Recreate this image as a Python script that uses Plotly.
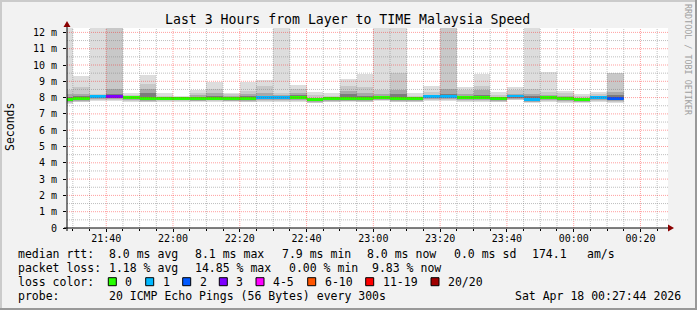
import plotly.graph_objects as go

# ---------------- data ----------------
bar_end = ["21:30","21:35","21:40","21:45","21:50","21:55",
           "22:00","22:05","22:10","22:15","22:20","22:25","22:30","22:35","22:40","22:45","22:50","22:55",
           "23:00","23:05","23:10","23:15","23:20","23:25","23:30","23:35","23:40","23:45","23:50","23:55",
           "00:00","00:05","00:10","00:15"]
loss = [0,0,1,3,0,0,0,0,0,0, 0,0,1,1,0,0,0,0,0,0, 0,0,1,1,0,0,0,1,1,0, 0,0,1,2]
median = [7.87,7.97,8.05,8.06,7.99,7.97,7.97,7.97,7.97,7.97,
          7.97,7.97,7.98,8.00,8.00,7.89,7.95,7.97,7.97,8.03,
          7.95,7.95,8.05,8.05,7.99,7.99,7.95,8.10,7.91,8.03,
          7.92,7.90,8.03,7.97]
smoke_max = [13,9.30,13,13,8.30,9.40,8.30,8.10,8.46,8.97,
             8.30,8.97,9.07,13,8.79,8.32,8.28,9.17,9.44,13,
             13,8.28,8.70,13,8.62,9.44,8.36,8.62,13,9.60,
             8.40,8.20,8.36,9.50]
smoke_hi2 = [8.45,8.64,8.25,13,8.15,8.85,8.12,8.05,8.30,8.50,
             8.20,8.42,8.70,8.30,8.54,8.15,8.12,8.72,8.64,8.44,
             9.52,8.12,8.32,13,8.45,8.72,8.15,8.44,8.50,8.35,
             8.30,8.10,8.20,9.50]
smoke_hi3 = [8.20,8.23,8.12,8.50,8.08,8.54,8.06,8.02,8.15,8.30,
             8.08,8.23,8.30,8.15,8.30,8.00,8.03,8.42,8.30,8.20,
             8.44,8.05,8.15,8.50,8.20,8.45,8.05,8.25,8.20,8.15,
             8.12,8.00,8.12,8.36]
smoke_hi4 = [8.05,8.10,8.10,8.20,8.04,8.30,8.03,8.00,8.05,8.10,
             8.02,8.10,8.10,8.08,8.15,7.95,7.99,8.20,8.12,8.10,
             8.20,8.00,8.10,8.20,8.05,8.15,8.00,8.17,8.08,8.10,
             8.00,7.95,8.08,8.15]
smoke_lo4 = [7.78,7.88,7.95,7.96,7.90,7.88,7.89,7.89,7.88,7.89,
             7.88,7.88,7.90,7.91,7.92,7.80,7.86,7.88,7.88,7.95,
             7.86,7.87,7.96,7.95,7.90,7.90,7.86,8.00,7.82,7.94,
             7.83,7.81,7.94,7.87]
smoke_lo3 = [7.72,7.82,7.90,7.90,7.84,7.82,7.83,7.83,7.82,7.83,
             7.82,7.82,7.84,7.85,7.86,7.74,7.80,7.82,7.82,7.88,
             7.80,7.81,7.90,7.89,7.84,7.84,7.80,7.94,7.76,7.88,
             7.77,7.75,7.88,7.80]
smoke_lo2 = [7.67,7.76,7.84,7.85,7.78,7.76,7.77,7.77,7.77,7.78,
             7.77,7.76,7.79,7.80,7.80,7.69,7.75,7.77,7.76,7.83,
             7.75,7.76,7.84,7.83,7.79,7.78,7.75,7.88,7.71,7.82,
             7.72,7.70,7.82,7.74]
smoke_min = [7.62,7.70,7.78,7.80,7.72,7.70,7.72,7.70,7.72,7.72,
             7.72,7.70,7.72,7.74,7.74,7.66,7.70,7.72,7.70,7.78,
             7.70,7.72,7.78,7.78,7.72,7.70,7.70,7.84,7.66,7.76,
             7.66,7.66,7.76,7.68]

y_tick_vals = [0,1,2,3,4,5,6,7,8,9,10,11,12]
y_tick_text = ["0","1 m","2 m","3 m","4 m","5 m","6 m","7 m","8 m","9 m","10 m","11 m","12 m"]

loss_keys = [0, 1, 2, 3, 5, 10, 19, 20]
loss_labels = ["0", "1", "2", "3", "4-5", "6-10", "11-19", "20/20"]
loss_colors = ["#26ff00", "#00b8ff", "#0059ff", "#7e00ff", "#ff00ff", "#ff5500", "#ff0000", "#a00000"]

title = "Last 3 Hours from Layer to TIME Malaysia Speed"
stats_rtt = ["median rtt:", "8.0 ms avg", "8.1 ms max", "7.9 ms min", "8.0 ms now", "0.0 ms sd", "174.1", "am/s"]
stats_loss = ["packet loss:", "1.18 % avg", "14.85 % max", "0.00 % min", "9.83 % now"]
probe_text = ["probe:", "20 ICMP Echo Pings (56 Bytes) every 300s", "Sat Apr 18 00:27:44 2026"]

# ---------------- helpers ----------------
W, H = 697, 310
L, R, T, B = 67, 668, 28, 228
def px(x):
    return (x - L) / (R - L)
def py(y):
    return (B - y) / (B - T)

def to_dt(hm):
    day = "2026-04-18" if hm.startswith("00") else "2026-04-17"
    return f"{day} {hm}:00"

xs = [to_dt(t) for t in bar_end]
FIVE = 300000
MONO = "DejaVu Sans Mono"

def loss_color(n):
    for k, c in zip(loss_keys, loss_colors):
        if n <= k:
            return c
    return loss_colors[-1]

fig = go.Figure()
layers = [(smoke_min, smoke_max, "#dddddd"),
          (smoke_lo2, smoke_hi2, "#c8c8c8"),
          (smoke_lo3, smoke_hi3, "#a8a8a8"),
          (smoke_lo4, smoke_hi4, "#7c7c7c")]
for lo, hi, col in layers:
    fig.add_trace(go.Bar(x=xs, base=lo, y=[h - l for l, h in zip(lo, hi)],
                         width=FIVE, offset=-FIVE, marker=dict(color=col, line=dict(width=0)),
                         hoverinfo="skip", showlegend=False))
MED_H = 0.18
fig.add_trace(go.Bar(x=xs, base=[m - MED_H / 2 for m in median], y=[MED_H] * len(median),
                     width=FIVE, offset=-FIVE,
                     marker=dict(color=[loss_color(n) for n in loss], line=dict(width=0)),
                     hoverinfo="skip", showlegend=False))

x_start, x_end = "2026-04-17 21:28:15", "2026-04-18 00:28:15"
shapes = []
# grid lines on top of the smoke (rrdtool style)
grid_minor = "rgba(128,128,128,0.5)"
grid_major = "rgba(255,0,0,0.38)"
vt = [f"2026-04-17 {h:02d}:{m:02d}:00" for h in (21, 22, 23) for m in range(0, 60, 5)] + \
     [f"2026-04-18 00:{m:02d}:00" for m in range(0, 30, 5)]
for t in vt:
    if t < x_start or t > x_end:
        continue
    major = int(t[-5:-3]) % 20 == 0
    shapes.append(dict(type="line", xref="x", yref="paper", x0=t, x1=t, y0=0, y1=1, layer="above",
                       line=dict(color=grid_major if major else grid_minor, width=1, dash="1px,1px")))
for i in range(1, 25):
    v = i * 0.5
    major = (i % 2 == 0)
    shapes.append(dict(type="line", xref="paper", yref="y", x0=0, x1=1, y0=v, y1=v, layer="above",
                       line=dict(color=grid_major if major else grid_minor, width=1, dash="1px,1px")))
# axes with arrows
shapes.append(dict(type="line", xref="paper", yref="paper", x0=px(67), x1=px(67), y0=py(231), y1=py(24),
                   line=dict(color="#000000", width=1), layer="above"))
shapes.append(dict(type="line", xref="paper", yref="paper", x0=px(64), x1=px(670), y0=py(228), y1=py(228),
                   line=dict(color="#000000", width=1), layer="above"))
shapes.append(dict(type="path", xref="paper", yref="paper", layer="above",
                   path=f"M {px(63.5)} {py(27)} L {px(70.5)} {py(27)} L {px(67)} {py(21)} Z",
                   fillcolor="#8b0000", line=dict(width=0)))
shapes.append(dict(type="path", xref="paper", yref="paper", layer="above",
                   path=f"M {px(668)} {py(224.5)} L {px(668)} {py(231.5)} L {px(674)} {py(228)} Z",
                   fillcolor="#8b0000", line=dict(width=0)))
# frame
shapes.append(dict(type="rect", xref="paper", yref="paper", x0=px(0), x1=px(697), y0=py(0), y1=py(2),
                   fillcolor="#cbcbcb", line=dict(width=0), layer="below"))
shapes.append(dict(type="rect", xref="paper", yref="paper", x0=px(0), x1=px(2), y0=py(0), y1=py(310),
                   fillcolor="#cbcbcb", line=dict(width=0), layer="below"))
shapes.append(dict(type="rect", xref="paper", yref="paper", x0=px(695), x1=px(697), y0=py(0), y1=py(310),
                   fillcolor="#999999", line=dict(width=0), layer="below"))
shapes.append(dict(type="rect", xref="paper", yref="paper", x0=px(0), x1=px(697), y0=py(308), y1=py(310),
                   fillcolor="#999999", line=dict(width=0), layer="below"))

ann = []
def text(x, y, s, size=11.5, anchor="left", color="#000000", angle=0):
    ann.append(dict(x=px(x), y=py(y), xref="paper", yref="paper", text=s, showarrow=False,
                    xanchor=anchor, yanchor="middle", textangle=angle,
                    font=dict(family=MONO, size=size, color=color)))

text(347.7, 19, title, size=13.2, anchor="center")
text(10, 127, "Seconds", size=11.5, anchor="center", angle=-90)
text(688, 60, "RRDTOOL / TOBI OETIKER", size=8.4, anchor="center", color="#a0a0a0", angle=90)

rtt_x = [16, 107.3, 192.7, 280, 365, 451.7, 530, 585]
for s, x in zip(stats_rtt, rtt_x):
    text(x, 254.3, s)
loss_x = [16, 107.3, 192.7, 286.7, 370]
for s, x in zip(stats_loss, loss_x):
    text(x, 268, s)
text(16, 282, "loss color:")
box_x = [108.3, 145.7, 182.7, 219.3, 256, 307.7, 365.7, 431]
for bx, lab, col in zip(box_x, loss_labels, loss_colors):
    shapes.append(dict(type="rect", xref="paper", yref="paper", x0=px(bx), x1=px(bx + 8),
                       y0=py(277.7), y1=py(285.7), fillcolor=col, line=dict(color="#000000", width=1)))
    text(bx + 15, 282, lab)
probe_x = [16, 107.3, 513.3]
for s, x in zip(probe_text, probe_x):
    text(x, 295.7, s)

fig.update_layout(
    width=W, height=H, margin=dict(l=L, r=W - R, t=T, b=H - B, pad=0),
    paper_bgcolor="#f2f2f2", plot_bgcolor="#ffffff",
    barmode="overlay", bargap=0, showlegend=False,
    shapes=shapes, annotations=ann,
    xaxis=dict(type="date", range=[x_start, x_end], showgrid=False, zeroline=False, showline=False,
               tickformat="%H:%M", tick0="2026-04-17 21:40:00", dtick=1200000,
               ticks="outside", ticklen=3, tickcolor="#000000", ticklabelstandoff=-2,
               minor=dict(dtick=300000, ticks="outside", ticklen=2, tickcolor="#000000", showgrid=False),
               tickfont=dict(family=MONO, size=10, color="#000000"), fixedrange=True),
    yaxis=dict(range=[0, 12.27], showgrid=False, zeroline=False, showline=False,
               tickvals=y_tick_vals, ticktext=y_tick_text,
               ticks="outside", ticklen=3, tickcolor="#000000", ticklabelstandoff=4,
               tickfont=dict(family=MONO, size=10, color="#000000"), fixedrange=True),
)
fig.write_html("out.html")
